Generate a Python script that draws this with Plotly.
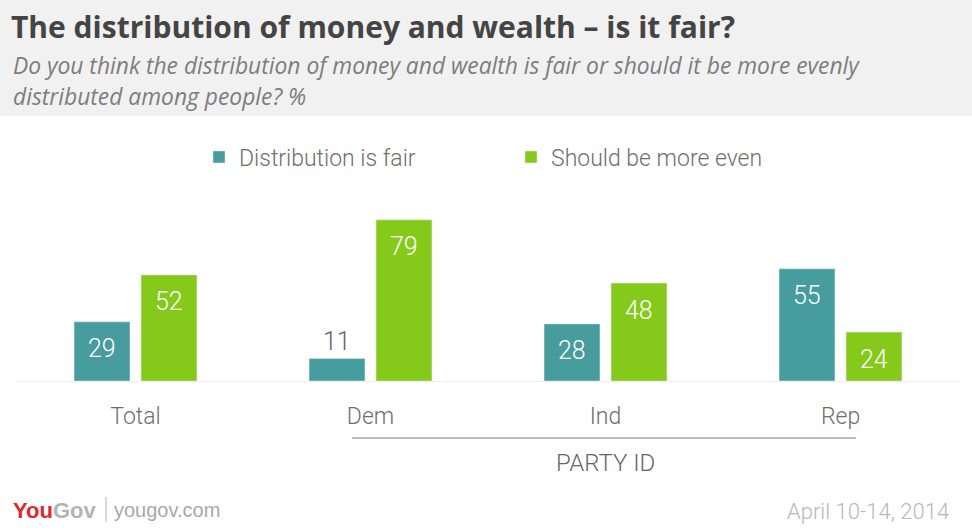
import plotly.graph_objects as go

categories = ["Total", "Dem", "Ind", "Rep"]
fair = [29, 11, 28, 55]
more_even = [52, 79, 48, 24]
series_names = ["Distribution is fair", "Should be more even"]
title_text = "The distribution of money and wealth – is it fair?"
subtitle_lines = ["Do you think the distribution of money and wealth is fair or should it be more evenly",
                  "distributed among people? %"]
group_label = "PARTY ID"
date_text = "April 10-14, 2014"

TEAL = "#479c9e"
GREEN = "#85c91b"

W, H = 972, 531
ML, MR, MT, MB = 18, 14, 190, 150
PW = W - ML - MR
PH = H - MT - MB


def px(xp):
    return (xp - ML) / PW


def py(yp):
    return (H - MB - yp) / PH


fig = go.Figure()
fig.add_trace(go.Bar(x=categories, y=fair, name=series_names[0], marker_color=TEAL,
                     hoverinfo="skip"))
fig.add_trace(go.Bar(x=categories, y=more_even, name=series_names[1], marker_color=GREEN,
                     hoverinfo="skip"))

annotations = []
OFF = 0.1426
for i, (a, b) in enumerate(zip(fair, more_even)):
    for val, dx in ((a, -OFF), (b, OFF)):
        inside = val >= 15
        annotations.append(dict(
            x=i + dx, y=val, xref="x", yref="y", text=str(val), showarrow=False,
            yanchor="middle", yshift=-27 if inside else 17,
            font=dict(family="Roboto", size=25, weight=300,
                      color="#ffffff" if inside else "#666666")))

# subtitle
annotations.append(dict(x=px(11), y=py(65), xref="paper", yref="paper", xanchor="left",
                        yanchor="middle", text="<i>" + subtitle_lines[0] + "</i>", showarrow=False,
                        font=dict(family="Open Sans", size=22.8, color="#7d7d7d")))
annotations.append(dict(x=px(11), y=py(96), xref="paper", yref="paper", xanchor="left",
                        yanchor="middle", text="<i>" + subtitle_lines[1] + "</i>", showarrow=False,
                        font=dict(family="Open Sans", size=22.8, color="#7d7d7d")))
# group label
annotations.append(dict(x=px(605), y=py(463), xref="paper", yref="paper", xanchor="center",
                        yanchor="middle", text=group_label, showarrow=False,
                        font=dict(family="Roboto", size=24, weight=300, color="#666666")))
# footer
annotations.append(dict(x=px(11), y=py(510), xref="paper", yref="paper", xanchor="left",
                        yanchor="middle",
                        text="<b><span style='color:#e4252b'>You</span><span style='color:#b4b4b4'>Gov</span></b>",
                        showarrow=False,
                        font=dict(family="Liberation Sans", size=22)))
annotations.append(dict(x=px(112), y=py(510), xref="paper", yref="paper", xanchor="left",
                        yanchor="middle", text="yougov.com", showarrow=False,
                        font=dict(family="Liberation Sans", size=20, color="#a8a8a8")))
annotations.append(dict(x=px(951), y=py(511), xref="paper", yref="paper", xanchor="right",
                        yanchor="middle", text=date_text, showarrow=False,
                        font=dict(family="Roboto", size=22, weight=300, color="#b8b8b8")))

shapes = [
    dict(type="rect", xref="paper", yref="paper", x0=px(0), x1=px(W), y0=py(116), y1=py(0),
         fillcolor="#f1f1f1", line=dict(width=0), layer="below"),
    dict(type="line", xref="paper", yref="paper", x0=px(352), x1=px(856), y0=py(438), y1=py(438),
         line=dict(color="#bcbcbc", width=2)),
    dict(type="line", xref="paper", yref="paper", x0=px(106), x1=px(106), y0=py(497), y1=py(522),
         line=dict(color="#b4b4b4", width=1)),
]

fig.update_layout(
    width=W, height=H,
    margin=dict(l=ML, r=MR, t=MT, b=MB, pad=0),
    paper_bgcolor="#ffffff", plot_bgcolor="#ffffff",
    barmode="group", bargap=0.43, bargroupgap=0.165,
    title=dict(text="<b>" + title_text + "</b>", x=11 / W, xanchor="left", xref="container",
               y=1 - 27 / H, yanchor="middle", yref="container",
               font=dict(family="Open Sans", size=30, color="#444444")),
    legend=dict(orientation="h", xref="container", yref="container", x=199 / W, y=1 - 157 / H,
                xanchor="left", yanchor="middle", entrywidth=267, entrywidthmode="pixels",
                font=dict(family="Roboto", size=23, weight=300, color="#6f6f6f"),
                bgcolor="rgba(0,0,0,0)", itemclick=False, itemdoubleclick=False),
    xaxis=dict(showgrid=False, zeroline=False, showline=True, linecolor="#eeeeee", linewidth=1,
               ticks="outside", ticklen=14, tickcolor="rgba(0,0,0,0)",
               tickfont=dict(family="Roboto", size=23, weight=300, color="#6f6f6f"),
               fixedrange=True),
    yaxis=dict(visible=False, range=[0, PH / 2.04], fixedrange=True),
    annotations=annotations, shapes=shapes,
    showlegend=True,
)

fig.write_html("out.html", config={"displayModeBar": False},
               post_script="document.body.style.margin='0';document.body.style.padding='0';")
